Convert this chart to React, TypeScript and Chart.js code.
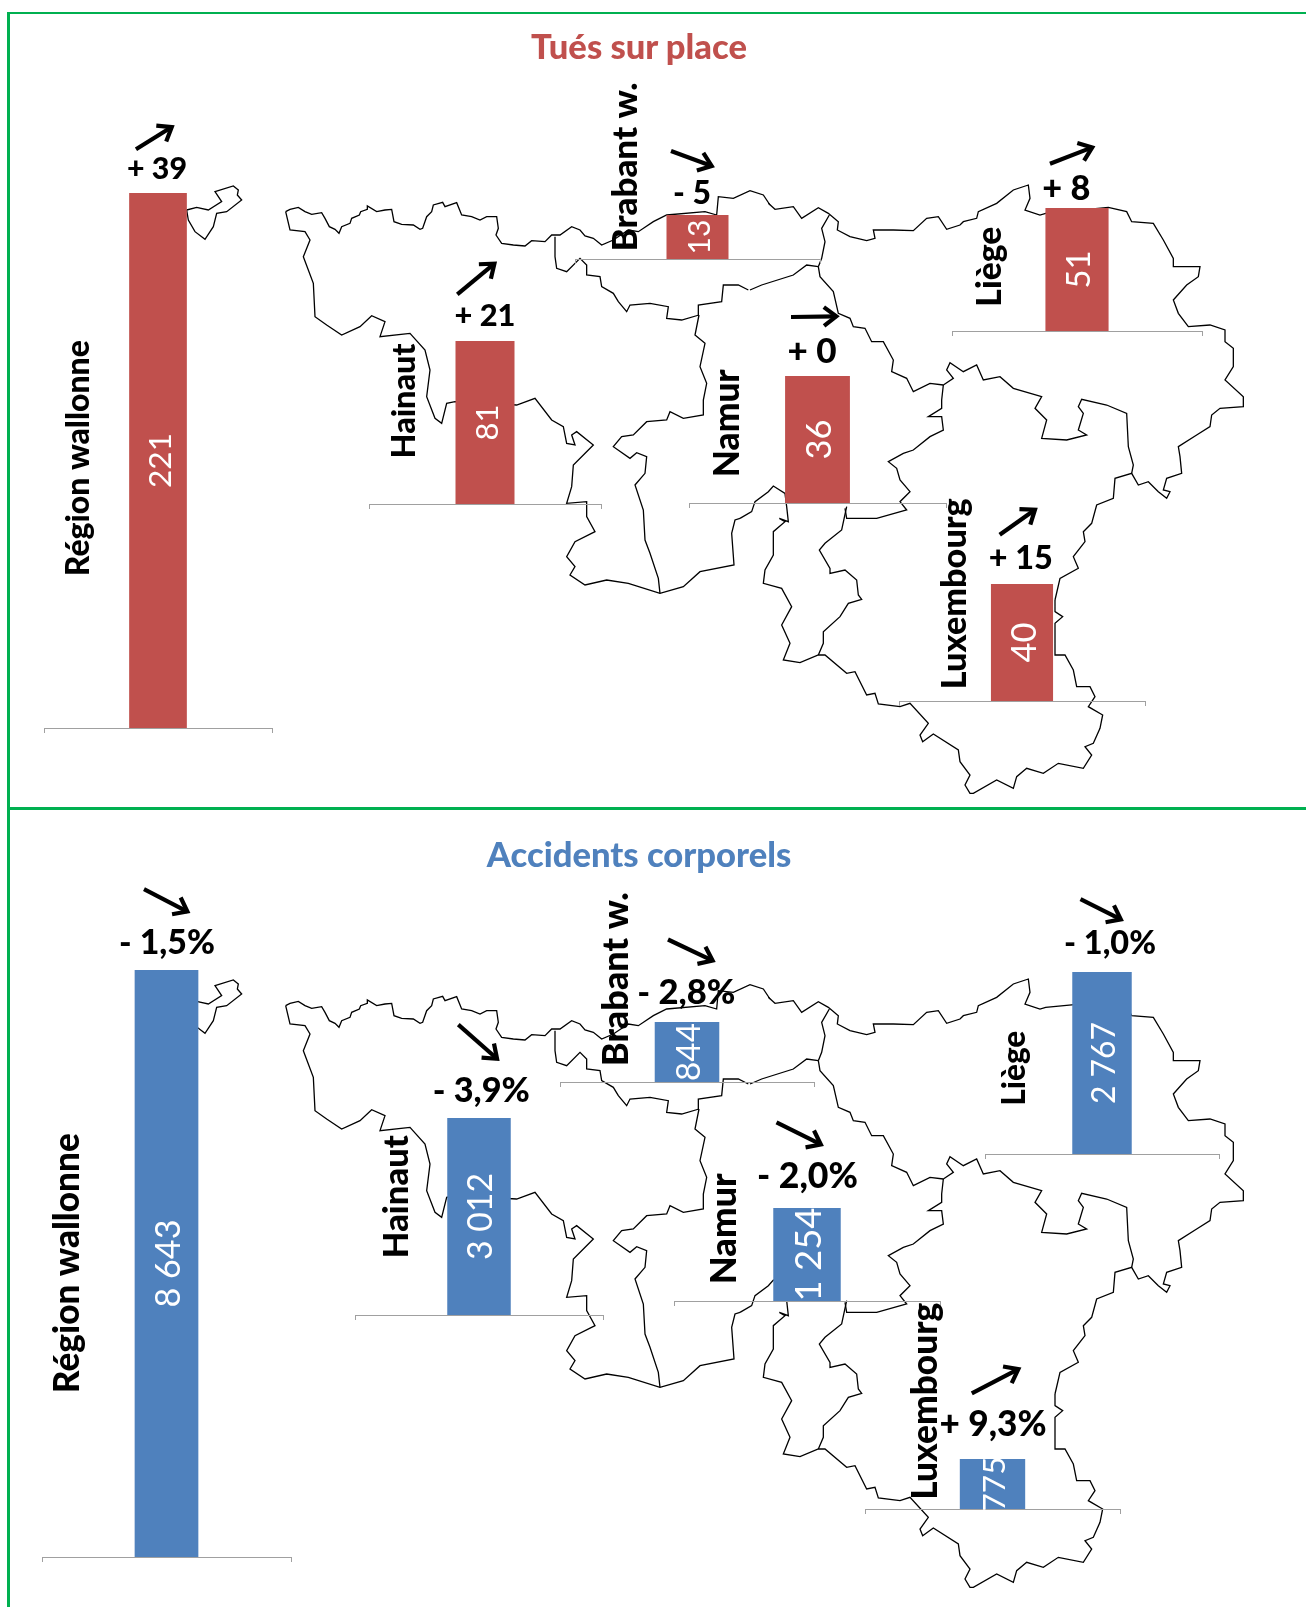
import React, { useEffect, useRef } from "react";
import { Chart, registerables } from "chart.js";

Chart.register(...registerables);

// ---------- data ----------
const categories = ["Région wallonne", "Hainaut", "Brabant w.", "Namur", "Liège", "Luxembourg"];
const tuesValues = [221, 81, 13, 36, 51, 40];
const tuesChanges = ["+ 39", "+ 21", "- 5", "+ 0", "+ 8", "+ 15"];
const accidentValues = [8643, 3012, 844, 1254, 2767, 775];
const accidentChanges = ["- 1,5%", "- 3,9%", "- 2,8%", "- 2,0%", "- 1,0%", "+ 9,3%"];

// ---------- map outline: x,y pairs, in crops of the map ----------
const northWest = [47,125,60,118,85,112,105,125,125,133,155,128,165,145,178,170,195,178,207,190,215,170,240,160,245,145,268,135,272,125,292,118,292,108,320,125,345,120,365,118,372,155,395,163,430,165,450,178,458,175,470,140,485,125,490,105,518,97,525,110,560,98,575,135,605,140,630,150,650,140,680,140,685,175,678,195,695,220,730,225,765,228,785,212,825,215,845,195,870,195,905,170,930,180,945,198,970,205,995,225,1030,210,1075,180,1105,185,1150,155,1190,135,1305,125,1340,135,1345,80,1390,85,1440,62,1480,75,1500,105];
const northEast = [55,100,75,118,130,110,155,145,205,113,235,130,265,155,262,180,300,200,350,212,375,205,370,180,430,180,490,182,530,145,565,140,590,178,630,165,640,155,680,145,685,125,740,100,790,60,835,45,840,85,825,120,870,135,887,130,1075,112,1130,125,1145,155,1210,160,1240,210,1270,265,1270,290,1350,290,1345,320,1310,345,1270,390,1285,430,1315,470,1380,465,1425,480,1425,515,1450,535,1450,590,1425,630,1480,680,1480,710,1410,715,1385,735,1380,770,1340,795,1285,830,1290,860,1295,910,1250,925,1240,960,1260,965,1250,985,1225,965,1195,935,1165,945,1145,910,1095,925,1090,985,1040,1005,1025,1060,1000,1085,1005,1115,970,1160,985,1195,930,1225,915,1290];
const southEast = [945,360,945,395,968,410,945,430,945,525,975,525,1000,570,1010,620,1050,620,1065,650,1045,680,1088,705,1080,745,1060,790,1035,800,1055,825,1030,865,955,850,910,880,860,865,830,890,820,925,770,900,700,940,690,940,675,915,690,885,660,845,655,810,580,762,548,785,540,765,565,730,510,670,480,680,415,672,405,640,380,645,345,575,320,580,255,525,235,525,180,548,130,540,150,490,125,435,155,380,125,325,70,310,75,270,100,225,100,155,135,125,118,115,145,125,140,80,135,40,100,18,85,35,45,65,35,95,0,115];
const southWest = [1410,1045,1395,1050,1385,1090,1392,1185,1290,1205,1240,1250,1170,1270,1075,1240,1010,1230,945,1245,900,1215,915,1190,890,1160,915,1115,975,1085,950,1040,950,995,890,1000,905,950,910,885,970,825,920,785,905,795,915,825,890,820,880,770,845,750,795,685,740,705,555,695,530,700,515,760,495,745,470,680,480,600,465,540,420,490,330,500,345,455,305,437,270,470,215,495,170,465,135,440,130,340,100,260,120,210,105,185,60,180,47,125];
const hainautNamur = [1170,1270,1165,1225,1140,1150,1125,1110,1120,1020,1095,945,1125,910,1130,860,1100,848,1080,865,1030,830,1055,800,1090,795,1130,755,1190,750,1200,725,1240,745,1300,735,1300,690,1310,640,1290,590,1305,520,1275,495,1287,435];
const hainautBrabant = [855,200,855,260,860,295,890,305,930,265,950,285,950,315,990,320,995,350,1030,370,1045,395,1070,425,1080,405,1140,400,1195,410,1190,445,1235,450,1287,435];
const namurBrabantA = [1287,435,1285,405,1355,395,1360,345,1405,345,1435,360];
const namurBrabantB = [0,360,35,345,130,315,170,285,205,290];
const brabantLiege = [205,290,215,265,225,215,215,175,238,135];
const namurLiege = [205,290,210,320,250,365,265,430,300,445,310,470,345,475,365,515,400,515,430,570,425,605,470,625,490,665,540,640,580,645];
const namurLuxA = [580,645,575,690,575,715,535,740,575,740,580,780,540,800,490,840,460,850,415,875,440,895,450,930,480,965,450,995,470,1020,380,1045,290,1045,285,1015];
const namurLuxB = [320,80,305,150,255,190,238,210,270,265,270,280,315,270,350,300,355,345,365,358,325,370,300,410,250,455,250,490,235,525];
const liegeLux = [580,645,610,625,590,600,600,578,640,605,680,585,700,630,750,620,790,655,875,680,855,715,890,750,875,805,950,810,1010,795,985,780,1000,730,985,710,995,688,1070,705,1130,730,1135,830,1150,885,1145,910];
const cantons = [560,630,590,622,625,630,665,605,645,575,700,558,715,570,712,585,725,600,680,635,650,640,640,680,615,718,585,695,565,660,560,630];

const cropA = [270, 170];
const cropB = [750, 170];
const cropC = [740, 480];
const cropD = [0, 0];
const mapSegments: [number[], number[]][] = [
  [northWest, cropA], [northEast, cropB], [southEast, cropC], [southWest, cropA],
  [hainautNamur, cropA], [hainautBrabant, cropA], [namurBrabantA, cropA], [namurBrabantB, cropB],
  [brabantLiege, cropB], [namurLiege, cropB], [namurLuxA, cropB], [namurLuxB, cropC], [liegeLux, cropB],
  [cantons, cropD],
];
const toPoints = (flat: number[], crop: number[]) => {
  const pts: { x: number; y: number }[] = [];
  for (let i = 0; i < flat.length; i += 2) pts.push({ x: crop[0] + flat[i] / 3, y: crop[1] + flat[i + 1] / 3 });
  return pts;
};

// ---------- layout: page positions ----------
type Place = {
  ax: [number, number]; bar: [number, number]; top: number; base: number;
  cat: [number, number, number]; chg: [number, number, number]; val: number;
  arrow: [number, number, number, number];
};
const tuesPlaces: Place[] = [
  { ax: [44, 272], bar: [129, 186.7], top: 192.8, base: 728.5, cat: [79, 458, 236], chg: [157, 169.5, 60], val: 55, arrow: [136, 149, 174.3, 125.3] },
  { ax: [369, 601], bar: [456.2, 515.2], top: 341, base: 504.6, cat: [405, 401, 115], chg: [485, 316.5, 61], val: 36, arrow: [457.3, 294.3, 496.7, 261.7] },
  { ax: [575, 820], bar: [666, 728], top: 215, base: 259.5, cat: [626, 167, 169], chg: [692, 193.5, 38], val: 35, arrow: [671, 151, 714.5, 167] },
  { ax: [689, 946.7], bar: [785.3, 850.3], top: 375.7, base: 503.5, cat: [728, 423, 108], chg: [812, 351, 49], val: 40, arrow: [791, 316.7, 839.3, 316] },
  { ax: [951.7, 1202.3], bar: [1045.7, 1109], top: 208.3, base: 331.5, cat: [990, 267, 80], chg: [1066, 189.5, 48], val: 38, arrow: [1049.7, 164, 1094.7, 146.6] },
  { ax: [899.3, 1146], bar: [992.5, 1054.8], top: 584.3, base: 701.5, cat: [955.5, 594, 191], chg: [1021, 558.5, 64], val: 40, arrow: [1000, 535, 1037.7, 508.3] },
];
const accidentPlaces: Place[] = [
  { ax: [42, 291], bar: [135.8, 199.5], top: 969.8, base: 1557.5, cat: [67.6, 1263, 260], chg: [167, 942.5, 96], val: 88, arrow: [144, 889, 190, 912.7] },
  { ax: [354.7, 602.7], bar: [447, 510.5], top: 1118.3, base: 1316, cat: [397, 1197, 123], chg: [481, 1091.5, 97], val: 87, arrow: [458, 1025, 499, 1061] },
  { ax: [559.7, 814.3], bar: [654.3, 719], top: 1021.8, base: 1082.2, cat: [616, 979, 174], chg: [686, 992.5, 98], val: 58, arrow: [667.7, 939.3, 715, 961.7] },
  { ax: [673.5, 940], bar: [773, 840.6], top: 1208.2, base: 1301.3, cat: [723.7, 1229, 111], chg: [807, 1176.5, 101], val: 94, arrow: [776, 1122.5, 823, 1146] },
  { ax: [985, 1219.9], bar: [1073.5, 1133.2], top: 971.8, base: 1154.3, cat: [1015, 1068, 75], chg: [1110, 943.5, 92], val: 82, arrow: [1080.5, 899, 1123.5, 920.5] },
  { ax: [865, 1120.5], bar: [961, 1026.5], top: 1458.7, base: 1509, cat: [925.6, 1401, 197], chg: [993, 1424.5, 107], val: 55, arrow: [971.8, 1393, 1021, 1367.5] },
];

const RED = "#C0504D";
const BLUE = "#4F81BD";
const AXIS = "#A0A0A0";
const GREEN = "#00B050";
const FONT = "Lato";
const HEAVY = "900";

const formatValue = (v: number) => String(v).replace(/\B(?=(\d{3})+$)/g, " ");

function fitText(ctx: CanvasRenderingContext2D, text: string, weight: string, target: number) {
  ctx.font = `${weight} 100px ${FONT}`;
  const size = (100 * target) / ctx.measureText(text).width;
  ctx.font = `${weight} ${size}px ${FONT}`;
}

function MapLayer({ top }: { top: number }) {
  const ref = useRef<HTMLCanvasElement>(null);
  useEffect(() => {
    const chart = new Chart(ref.current!, {
      type: "scatter",
      data: {
        datasets: mapSegments.map(([flat, crop]) => ({
          data: toPoints(flat, crop),
          showLine: true,
          pointRadius: 0,
          borderColor: "#000",
          borderWidth: 1.3,
          tension: 0,
        })),
      },
      options: {
        animation: false,
        responsive: false,
        events: [],
        layout: { padding: 0 },
        plugins: { legend: { display: false }, tooltip: { enabled: false } },
        scales: {
          x: { display: false, min: 0, max: 1306 },
          y: { display: false, min: 0, max: 800, reverse: true },
        },
      },
    });
    return () => chart.destroy();
  }, []);
  return <canvas ref={ref} width={1306} height={800} style={{ position: "absolute", left: 0, top }} />;
}

function MiniBar({ name, value, change, color, place }: { name: string; value: number; change: string; color: string; place: Place }) {
  const ref = useRef<HTMLCanvasElement>(null);
  const margin = 3;
  const head = Math.ceil(Math.max(place.top - Math.min(place.cat[1] - place.cat[2] / 2, place.arrow[1], place.arrow[3], place.chg[1]) + 30, 0));
  const left = place.ax[0] - margin;
  const width = place.ax[1] - place.ax[0] + margin * 2;
  const canvasTop = place.top - head;
  const height = place.base - canvasTop + 6;
  useEffect(() => {
    const overlay = {
      id: "overlay",
      afterDatasetsDraw(chart: any) {
        const ctx = chart.ctx as CanvasRenderingContext2D;
        const bar = chart.getDatasetMeta(0).data[0];
        const midX = bar.x + 2.5;
        const midY = (bar.y + bar.base) / 2;
        ctx.save();
        // value along the bar
        ctx.save();
        ctx.translate(midX, midY);
        ctx.rotate(-Math.PI / 2);
        ctx.fillStyle = "#fff";
        ctx.textAlign = "center";
        ctx.textBaseline = "middle";
        fitText(ctx, formatValue(value), "400", place.val);
        ctx.fillText(formatValue(value), 0, 0);
        ctx.restore();
        ctx.translate(-left, -canvasTop);
        // category name
        ctx.save();
        ctx.translate(place.cat[0], place.cat[1]);
        ctx.rotate(-Math.PI / 2);
        ctx.fillStyle = "#000";
        ctx.textAlign = "center";
        ctx.textBaseline = "middle";
        fitText(ctx, name, HEAVY, place.cat[2]);
        ctx.fillText(name, 0, 0);
        ctx.restore();
        // change label
        ctx.fillStyle = "#000";
        ctx.textAlign = "center";
        ctx.textBaseline = "middle";
        fitText(ctx, change, HEAVY, place.chg[2]);
        ctx.fillText(change, place.chg[0], place.chg[1]);
        // arrow
        const [x1, y1, x2, y2] = place.arrow;
        const a = Math.atan2(y2 - y1, x2 - x1);
        ctx.strokeStyle = "#000";
        ctx.lineWidth = 4.2;
        ctx.lineCap = "butt";
        ctx.lineJoin = "miter";
        ctx.beginPath();
        ctx.moveTo(x1, y1);
        ctx.lineTo(x2 - Math.cos(a) * 3, y2 - Math.sin(a) * 3);
        ctx.stroke();
        ctx.beginPath();
        ctx.moveTo(x2 - 18 * Math.cos(a - 0.55), y2 - 18 * Math.sin(a - 0.55));
        ctx.lineTo(x2 - Math.cos(a) * 3, y2 - Math.sin(a) * 3);
        ctx.lineTo(x2 - 18 * Math.cos(a + 0.55), y2 - 18 * Math.sin(a + 0.55));
        ctx.stroke();
        ctx.restore();
      },
    };
    const chart = new Chart(ref.current!, {
      type: "bar",
      data: {
        labels: [name],
        datasets: [{
          data: [value],
          backgroundColor: color,
          barPercentage: 1,
          categoryPercentage: (place.bar[1] - place.bar[0]) / (place.ax[1] - place.ax[0]),
        }],
      },
      options: {
        animation: false,
        responsive: false,
        events: [],
        layout: { padding: { top: head, left: margin, right: margin, bottom: 1 } },
        plugins: { legend: { display: false }, tooltip: { enabled: false } },
        scales: {
          x: {
            grid: { display: true, drawOnChartArea: false, drawTicks: true, tickLength: 5, color: AXIS },
            border: { color: AXIS, width: 1 },
            ticks: { display: false },
          },
          y: { display: false, min: 0, max: value },
        },
      },
      plugins: [overlay],
    } as any);
    return () => chart.destroy();
  }, []);
  return <canvas ref={ref} width={width} height={height} style={{ position: "absolute", left, top: canvasTop }} />;
}

const titleStyle = (top: number, color: string): React.CSSProperties => ({
  position: "absolute", left: 0, width: 1278, top, textAlign: "center", color,
  font: `900 34.6px ${FONT}`, lineHeight: "40px",
});
const rule = (left: number, top: number, width: number | string, height: number): React.CSSProperties => ({
  position: "absolute", left, top, width, height, background: GREEN,
});

export default function App() {
  return (
    <div style={{ position: "absolute", left: 0, top: 0, width: 1306, height: 1607, overflow: "hidden", background: "#fff" }}>
      <MapLayer top={0} />
      <MapLayer top={794} />
      <div style={rule(7, 11.5, 1299, 2.5)} />
      <div style={rule(7, 807, 1299, 2.5)} />
      <div style={rule(7, 11.5, 2.5, 1596)} />
      <div style={titleStyle(26, RED)}>Tués sur place</div>
      <div style={titleStyle(834, BLUE)}>Accidents corporels</div>
      {categories.map((c, i) => (
        <MiniBar key={"t" + i} name={c} value={tuesValues[i]} change={tuesChanges[i]} color={RED} place={tuesPlaces[i]} />
      ))}
      {categories.map((c, i) => (
        <MiniBar key={"a" + i} name={c} value={accidentValues[i]} change={accidentChanges[i]} color={BLUE} place={accidentPlaces[i]} />
      ))}
    </div>
  );
}
